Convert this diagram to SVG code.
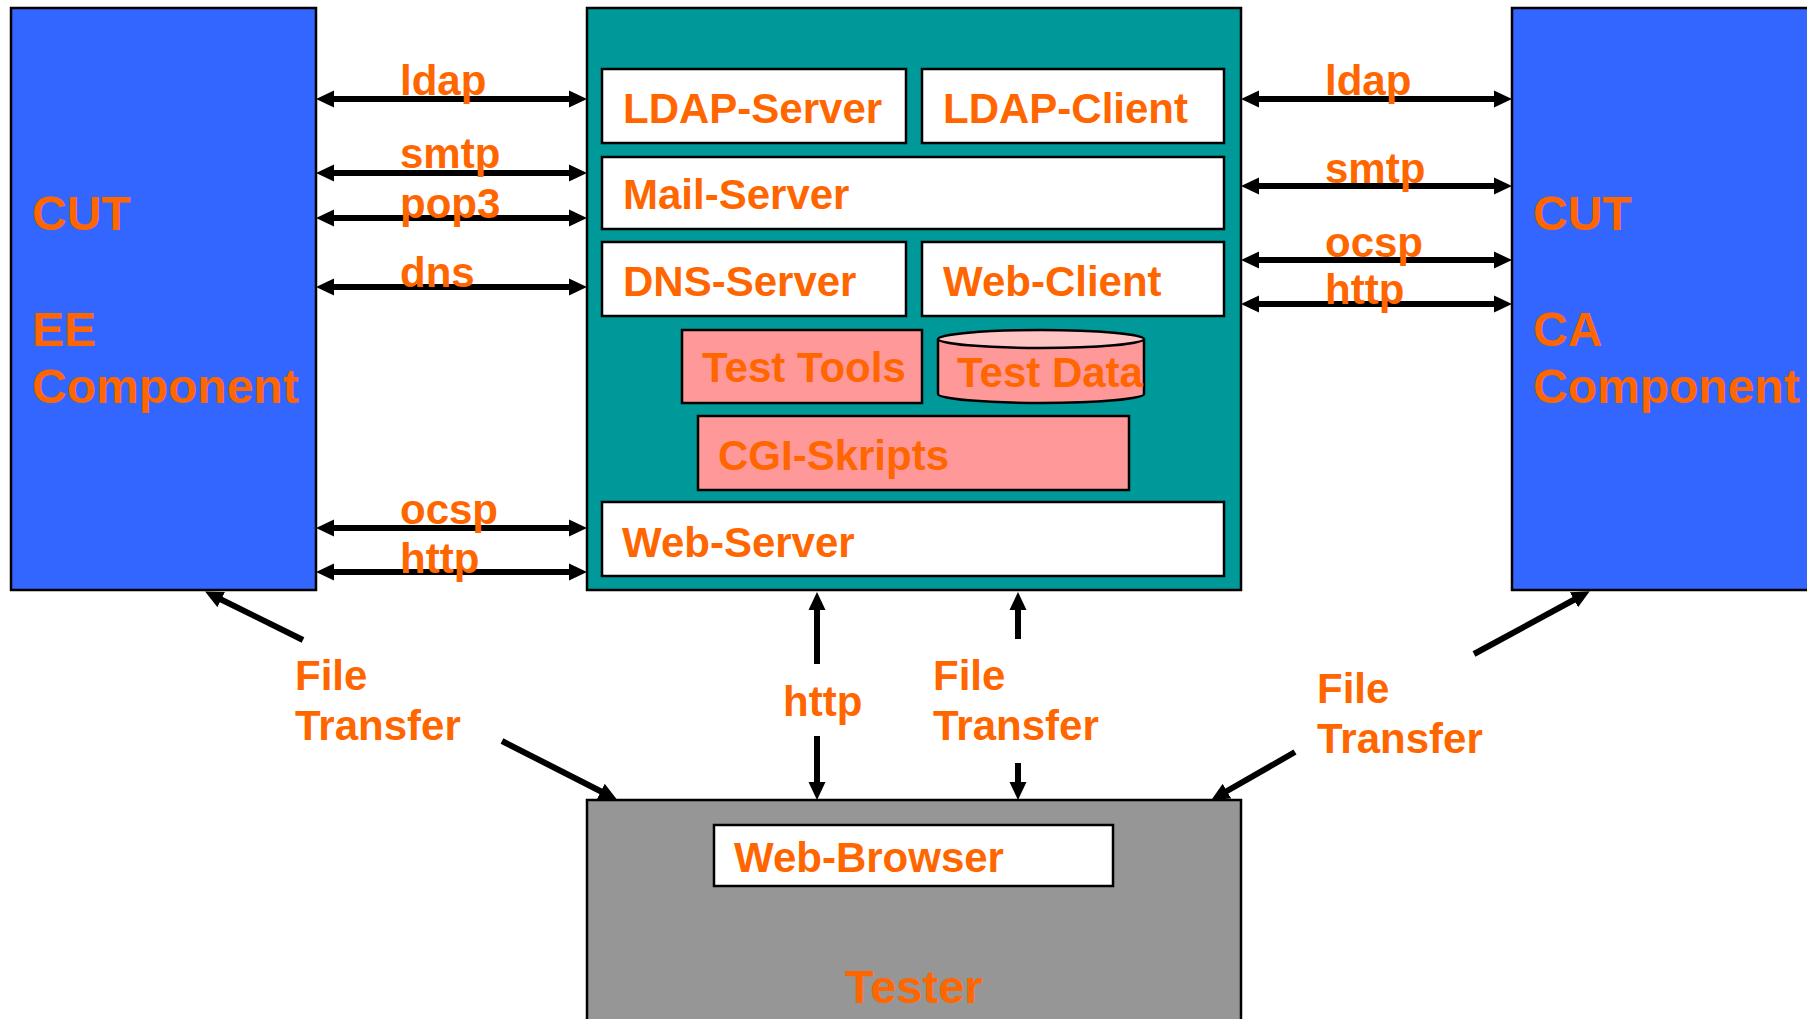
<svg xmlns="http://www.w3.org/2000/svg" width="1807" height="1019" viewBox="0 0 1807 1019">
<defs>
<marker id="ah" viewBox="0 0 18 18" refX="8" refY="9" markerWidth="18" markerHeight="18" orient="auto-start-reverse" markerUnits="userSpaceOnUse"><path d="M0,0.5 L18,9 L0,17.5 z" fill="#000"/></marker>
<style>
text{font-family:"Liberation Sans",Arial,sans-serif;font-weight:bold;fill:#FF6600;font-size:42px}
.big{font-size:48px}
.box{stroke:#000;stroke-width:2.5}
.wht{fill:#fff}
.pink{fill:#FF9999}
.arr{stroke:#000;stroke-width:6;fill:none}
.dbl{marker-start:url(#ah);marker-end:url(#ah)}
.one{marker-end:url(#ah)}
</style>
</defs>
<rect width="1807" height="1019" fill="#fff"/>
<g id="ee">
<rect class="box" x="11" y="8" width="305" height="582" fill="#3366FF"/>
<text class="big" x="32" y="230">CUT</text>
<text class="big" x="32" y="346">EE</text>
<text class="big" x="32" y="403">Component</text>
</g>
<g id="ca">
<rect class="box" x="1512" y="8" width="310" height="582" fill="#3366FF"/>
<text class="big" x="1533" y="230">CUT</text>
<text class="big" x="1533" y="346">CA</text>
<text class="big" x="1533" y="403">Component</text>
</g>
<g id="server">
<rect class="box" x="587" y="8" width="654" height="582" fill="#009999"/>
</g>
<g id="ldap-server"><rect class="box wht" x="602" y="69" width="304" height="74"/><text x="623" y="123">LDAP-Server</text></g>
<g id="ldap-client"><rect class="box wht" x="922" y="69" width="302" height="74"/><text x="943" y="123">LDAP-Client</text></g>
<g id="mail-server"><rect class="box wht" x="602" y="157" width="622" height="72"/><text x="623" y="209">Mail-Server</text></g>
<g id="dns-server"><rect class="box wht" x="602" y="242" width="304" height="74"/><text x="623" y="296">DNS-Server</text></g>
<g id="web-client"><rect class="box wht" x="922" y="242" width="302" height="74"/><text x="943" y="296">Web-Client</text></g>
<g id="test-tools"><rect class="box pink" x="682" y="330" width="240" height="73"/><text x="702" y="382">Test Tools</text></g>
<g id="test-data">
<path class="box pink" d="M938,339 L938,394 A103,9 0 0 0 1144,394 L1144,339"/>
<ellipse class="box" cx="1041" cy="339" rx="103" ry="9" fill="#FFC4C4"/>
<text x="957" y="387">Test Data</text>
</g>
<g id="cgi"><rect class="box pink" x="698" y="416" width="431" height="74"/><text x="718" y="470">CGI-Skripts</text></g>
<g id="web-server"><rect class="box wht" x="602" y="502" width="622" height="74"/><text x="622" y="557">Web-Server</text></g>
<g id="tester">
<rect class="box" x="587" y="800" width="654" height="230" fill="#969696"/>
<text x="845" y="1003" style="font-size:47px">Tester</text>
</g>
<g id="web-browser"><rect class="box wht" x="714" y="825" width="399" height="61"/><text x="734" y="872">Web-Browser</text></g>
<g id="connectors">
<line class="arr dbl" x1="326" y1="99" x2="577" y2="99"/>
<line class="arr dbl" x1="326" y1="173" x2="577" y2="173"/>
<line class="arr dbl" x1="326" y1="218" x2="577" y2="218"/>
<line class="arr dbl" x1="326" y1="287" x2="577" y2="287"/>
<line class="arr dbl" x1="326" y1="528" x2="577" y2="528"/>
<line class="arr dbl" x1="326" y1="572" x2="577" y2="572"/>
<line class="arr dbl" x1="1251" y1="99" x2="1502" y2="99"/>
<line class="arr dbl" x1="1251" y1="186" x2="1502" y2="186"/>
<line class="arr dbl" x1="1251" y1="260" x2="1502" y2="260"/>
<line class="arr dbl" x1="1251" y1="304" x2="1502" y2="304"/>
<line class="arr one" x1="817" y1="664" x2="817" y2="602"/>
<line class="arr one" x1="817" y1="736" x2="817" y2="790"/>
<line class="arr one" x1="1018" y1="639" x2="1018" y2="602"/>
<line class="arr one" x1="1018" y1="763" x2="1018" y2="790"/>
<line class="arr one" x1="303" y1="640" x2="214" y2="596"/>
<line class="arr one" x1="502" y1="741" x2="608" y2="795"/>
<line class="arr one" x1="1474" y1="654" x2="1581" y2="596"/>
<line class="arr one" x1="1295" y1="752" x2="1220" y2="795"/>
</g>
<g id="labels">
<text x="400" y="95">ldap</text>
<text x="400" y="168">smtp</text>
<text x="400" y="218">pop3</text>
<text x="400" y="287">dns</text>
<text x="400" y="524">ocsp</text>
<text x="400" y="573">http</text>
<text x="1325" y="95">ldap</text>
<text x="1325" y="183">smtp</text>
<text x="1325" y="257">ocsp</text>
<text x="1325" y="304">http</text>
<text x="783" y="716">http</text>
<text x="933" y="690">File</text>
<text x="933" y="740">Transfer</text>
<text x="295" y="690">File</text>
<text x="295" y="740">Transfer</text>
<text x="1317" y="703">File</text>
<text x="1317" y="753">Transfer</text>
</g>
</svg>
